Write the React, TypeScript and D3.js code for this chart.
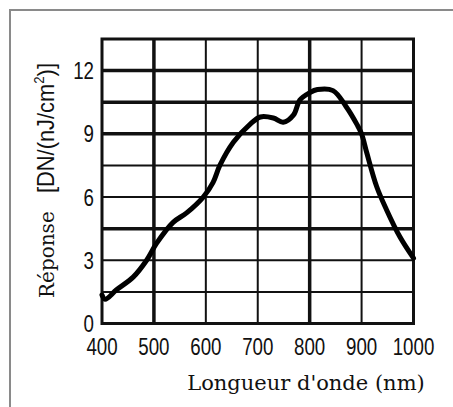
import * as d3 from 'd3'

// Spectral response curve
const wavelengths = [400, 406, 428, 460, 486, 505, 537, 563, 595, 614, 627, 653, 685, 705, 730, 749, 769, 781, 800, 815, 845, 870, 891, 900, 910, 929, 948, 974, 1000]
const response = [1.35, 1.15, 1.6, 2.2, 3.0, 3.8, 4.8, 5.25, 6.0, 6.7, 7.5, 8.6, 9.45, 9.8, 9.75, 9.55, 9.9, 10.6, 10.95, 11.1, 11.05, 10.3, 9.45, 9.0, 8.1, 6.5, 5.4, 4.1, 3.1]

const xTicks = [400, 500, 600, 700, 800, 900, 1000]
const yTicks = [0, 3, 6, 9, 12]
const yGrid = [1.5, 3, 4.5, 6, 7.5, 9, 10.5, 12]
const thickX = [500, 800]
const thickY = [4.5, 9, 10.5, 12]

const W = 453
const H = 407
const sans = '"Liberation Sans", sans-serif'
const serif = '"DejaVu Serif", serif'
const narrow = 0.78

export default function App() {
  const x = d3.scaleLinear().domain([400, 1000]).range([102, 413.5])
  const y = d3.scaleLinear().domain([0, 13.5]).range([323.5, 39])

  const pts = wavelengths.map((w, i) => [w, response[i]] as [number, number])
  const line = d3.line<[number, number]>()
    .x(d => x(d[0]))
    .y(d => y(d[1]))
    .curve(d3.curveCatmullRom.alpha(0.5))

  return (
    <svg width={W} height={H} style={{ position: 'absolute', left: 0, top: 0, background: '#fff' }}>
      {/* outer frame */}
      <rect x={10} y={10} width={460} height={420} fill="none" stroke="#8a8a8a" strokeWidth={2} />

      {/* grid */}
      {xTicks.slice(1, -1).map(t => (
        <line key={'vx' + t} x1={x(t)} x2={x(t)} y1={y(13.5)} y2={y(0)}
          stroke="#111" strokeWidth={thickX.includes(t) ? 3.5 : 2} />
      ))}
      {yGrid.map(t => (
        <line key={'hy' + t} x1={x(400)} x2={x(1000)} y1={y(t)} y2={y(t)}
          stroke="#111" strokeWidth={thickY.includes(t) ? 3.5 : 2} />
      ))}
      <rect x={x(400)} y={y(13.5)} width={x(1000) - x(400)} height={y(0) - y(13.5)}
        fill="none" stroke="#111" strokeWidth={3} />

      {/* curve */}
      <path d={line(pts) ?? ''} fill="none" stroke="#000" strokeWidth={5} strokeLinejoin="round" strokeLinecap="round" />

      {/* tick labels */}
      {yTicks.map(t => (
        <text key={'yt' + t} transform={`translate(94,${y(t)}) scale(${narrow},1)`} dy="0.36em" textAnchor="end"
          fontFamily={sans} fontSize={24} fill="#111">{t}</text>
      ))}
      {xTicks.map(t => (
        <text key={'xt' + t} transform={`translate(${x(t)},355) scale(${narrow},1)`} textAnchor="middle"
          fontFamily={sans} fontSize={24} fill="#111">{t}</text>
      ))}

      {/* axis titles */}
      <text x={306} y={390} textAnchor="middle" fontFamily={serif} fontSize={21} fill="#111">
        Longueur d'onde (nm)
      </text>
      <text transform="translate(54,298) rotate(-90)" fontFamily={serif} fontSize={20} fill="#111">
        Réponse
      </text>
      <text transform="translate(54,193) rotate(-90) scale(0.95,1)" fontFamily={sans} fontSize={23} fill="#111">
        [DN/(nJ/cm<tspan fontSize={14} dy={-10}>2</tspan><tspan dy={10}>)]</tspan>
      </text>
    </svg>
  )
}
